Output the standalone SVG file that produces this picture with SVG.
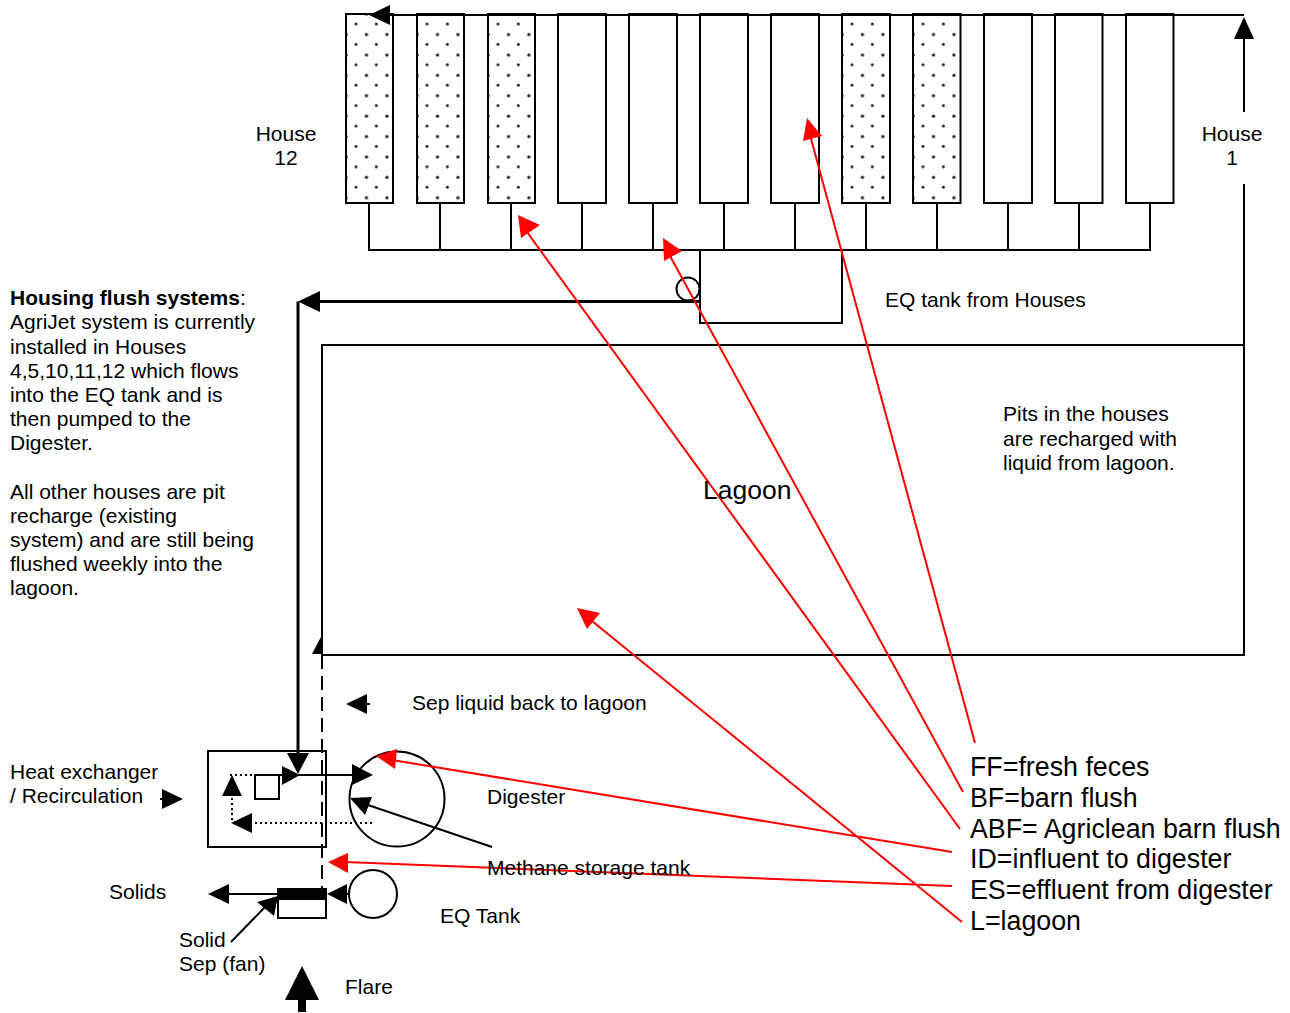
<svg xmlns="http://www.w3.org/2000/svg" width="1290" height="1013" viewBox="0 0 1290 1013">
<style>
text{font-family:"Liberation Sans",Arial,sans-serif;font-size:21px;fill:#000}
.l{font-size:26.800px}
.h{fill:#fff;stroke:#000;stroke-width:2}
.d{fill:url(#dots);stroke:#000;stroke-width:2}
.k{fill:none;stroke:#000;stroke-width:2}
.t{fill:none;stroke:#000;stroke-width:3}
.r{fill:none;stroke:#f00;stroke-width:2}
.rh{fill:#f00}
.ah{fill:#000}
.dot{fill:none;stroke:#000;stroke-width:2;stroke-dasharray:2 3}
</style>
<defs>
<pattern id="dots" width="20.4" height="20.4" patternUnits="userSpaceOnUse" x="0" y="0">
<circle cx="10" cy="10" r="1.500" fill="#222"/>
<circle cx="0.2" cy="0.2" r="1.500" fill="#222"/>
<circle cx="20.4" cy="0.2" r="1.500" fill="#222"/>
<circle cx="0.2" cy="20.4" r="1.500" fill="#222"/>
<circle cx="20.4" cy="20.4" r="1.500" fill="#222"/>
</pattern>
</defs>
<g id="houses">
<g transform="translate(346,14)"><rect class="d" width="47" height="189"/></g>
<g transform="translate(417,14)"><rect class="d" width="47" height="189"/></g>
<g transform="translate(488,14)"><rect class="d" width="47" height="189"/></g>
<rect class="h" x="558" y="14" width="48" height="189"/>
<rect class="h" x="629" y="14" width="48" height="189"/>
<rect class="h" x="700" y="14" width="48" height="189"/>
<rect class="h" x="771" y="14" width="48" height="189"/>
<g transform="translate(842,14)"><rect class="d" width="48" height="189"/></g>
<g transform="translate(913,14)"><rect class="d" width="47.500" height="189"/></g>
<rect class="h" x="984" y="14" width="48" height="189"/>
<rect class="h" x="1055" y="14" width="47.500" height="189"/>
<rect class="h" x="1126" y="14" width="47.500" height="189"/>
</g>
<g id="eq-tank-top"><rect class="k" x="700" y="250" width="142" height="73"/><circle class="k" cx="688" cy="289" r="11.500"/></g>
<g id="lagoon"><rect class="k" x="322" y="345" width="922" height="310"/></g>
<g id="exchanger"><rect class="k" x="208" y="751" width="118" height="96"/><rect class="k" x="255" y="775" width="24" height="24"/></g>
<g id="digester"><circle class="k" cx="397" cy="799" r="47.500"/></g>
<g id="eq-tank"><circle class="k" cx="373" cy="894" r="24"/></g>
<g id="separator"><rect class="k" x="278" y="889" width="48" height="29"/><rect x="278" y="888" width="48" height="12" fill="#000"/></g>
<g id="connectors">
<path class="k" d="M390 15H1244M369 203V250H1150V203M440 203V250M511 203V250M582 203V250M653 203V250M724 203V250M795 203V250M866 203V250M937 203V250M1008 203V250M1079 203V250"/>
<path class="k" d="M1244 345V184M1244 112V30"/>
<path class="ah" d="M1244 17L1234 39H1254Z"/>
<path class="ah" d="M369 15L390 5V25Z"/>
<path class="t" d="M700 301.500H318M298 301.500V760"/>
<path class="ah" d="M298 301.500L320 291V312Z"/>
<path class="ah" d="M298 774L287 753H309Z"/>
<path class="k" d="M322 655V888" stroke-dasharray="14 7"/>
<path class="ah" d="M322 635L312 654H322Z"/>
<path class="ah" d="M346 704L367 694V714Z"/><path class="k" d="M367 704H370"/>
<path class="ah" d="M183 799L162 789V809Z"/><path class="k" d="M160 799H164"/>
<path class="k" d="M298 775H355"/>
<path class="ah" d="M373 775L352 764V785Z"/>
<path class="ah" d="M300 775L282 766V785Z"/>
<path class="dot" d="M282 775H231V795"/>
<path class="ah" d="M232 775L222 796H242Z"/>
<path class="dot" d="M232 798V823M250 823H375"/>
<path class="ah" d="M231 823L252 813V833Z"/>
<path class="k" d="M492 847L365 804"/>
<path class="ah" d="M350 798L372 797L365 815Z"/>
<path class="k" d="M278 894H226"/>
<path class="ah" d="M208 894L229 884V904Z"/>
<path class="k" d="M231 942L265 907"/>
<path class="ah" d="M278 896L257 902L274 916Z"/>
<path class="k" d="M349 894H346"/>
<path class="ah" d="M327 894L347 884V904Z"/>
<path class="ah" d="M302 966L285 1000H319Z"/>
<rect x="298" y="1000" width="8" height="12" fill="#000"/>
</g>
<g id="red-arrows">
<path class="r" d="M975 743L810 135M963 792L670 256M960 829L527 232M952 852L392 760M952 886L345 862M962 922L592 621"/>
<path class="rh" d="M807 118L803 141L822 136Z"/>
<path class="rh" d="M663 238L664 261L682 251Z"/>
<path class="rh" d="M518 215L521 238L540 225Z"/>
<path class="rh" d="M376 756L397 749L395 769Z"/>
<path class="rh" d="M328 862L348 853V873Z"/>
<path class="rh" d="M577 608L587 629L600 613Z"/>
</g>
<g id="labels">
<text x="286" y="141" text-anchor="middle">House</text><text x="286" y="165" text-anchor="middle">12</text>
<text x="1232" y="141" text-anchor="middle">House</text><text x="1232" y="165" text-anchor="middle">1</text>
<text x="885" y="307">EQ tank from Houses</text>
<text x="1003" y="421">Pits in the houses</text>
<text x="1003" y="446">are recharged with</text>
<text x="1003" y="470">liquid from lagoon.</text>
<text x="703" y="499" style="font-size:26.500px">Lagoon</text>
<text x="10" y="305"><tspan font-weight="bold">Housing flush systems</tspan>:</text>
<text x="10" y="329">AgriJet system is currently</text>
<text x="10" y="354">installed in Houses</text>
<text x="10" y="378">4,5,10,11,12 which flows</text>
<text x="10" y="402">into the EQ tank and is</text>
<text x="10" y="426">then pumped to the</text>
<text x="10" y="450">Digester.</text>
<text x="10" y="499">All other houses are pit</text>
<text x="10" y="523">recharge (existing</text>
<text x="10" y="547">system) and are still being</text>
<text x="10" y="571">flushed weekly into the</text>
<text x="10" y="595">lagoon.</text>
<text x="412" y="710">Sep liquid back to lagoon</text>
<text x="10" y="779">Heat exchanger</text>
<text x="10" y="803">/ Recirculation</text>
<text x="487" y="804">Digester</text>
<text x="487" y="875">Methane storage tank</text>
<text x="109" y="899">Solids</text>
<text x="440" y="923">EQ Tank</text>
<text x="179" y="947">Solid</text>
<text x="179" y="971">Sep (fan)</text>
<text x="345" y="994">Flare</text>
<text class="l" x="970" y="776">FF=fresh feces</text>
<text class="l" x="970" y="807">BF=barn flush</text>
<text class="l" x="970" y="838">ABF= Agriclean barn flush</text>
<text class="l" x="970" y="868">ID=influent to digester</text>
<text class="l" x="970" y="899">ES=effluent from digester</text>
<text class="l" x="970" y="930">L=lagoon</text>
</g>
</svg>
